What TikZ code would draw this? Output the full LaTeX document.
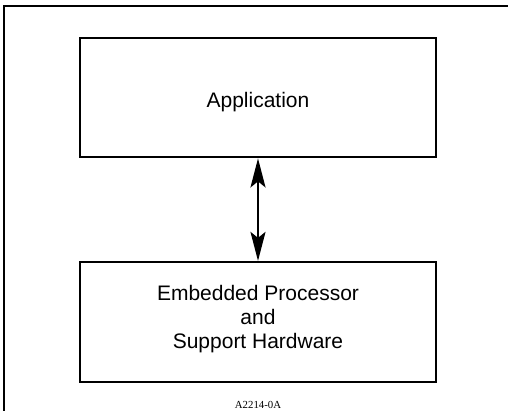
\documentclass[tikz,border=0pt]{standalone}
\usepackage{fontspec}
\setmainfont{Liberation Sans}
\newfontfamily\timesfont{Liberation Serif}
\usetikzlibrary{arrows.meta}
\begin{document}
\begin{tikzpicture}[x=1bp,y=1bp,
  blockbox/.style={draw,line width=2.2bp,minimum width=356bp,inner sep=0pt,align=center,font=\fontsize{21bp}{24bp}\selectfont},
  headtip/.tip={Stealth[length=29bp,width=15bp,inset=6bp]},
  link/.style={line width=2.2bp,headtip-headtip}]
\useasboundingbox (0,0) rectangle (508,411);
\coordinate (tl) at (4,405.3);
\coordinate (tr) at (508,405.3);
\coordinate (bl) at (4,0);
\draw[line width=2.2bp] (tr) -- (tl) -- (bl);
\node[blockbox,minimum height=119.6bp,text height=20.8bp,text depth=0pt] (app) at (258,313.5) {Application};
\node[blockbox,minimum height=120bp,text height=52bp,text depth=0pt] (emb) at (258,89) {Embedded Processor\\and\\Support Hardware};
\draw[link] (app.south) -- (emb.north);
\node[font=\timesfont\fontsize{10.8bp}{12bp}\selectfont] (lbl) at (258,6) {A2214-0A};
\end{tikzpicture}
\end{document}
